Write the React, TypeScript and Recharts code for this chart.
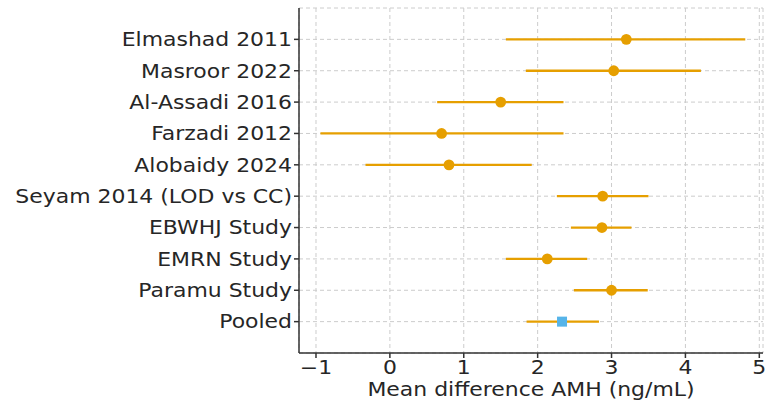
import { ScatterChart, Scatter, XAxis, YAxis, CartesianGrid, ErrorBar, Label } from 'recharts'

const studies = [
  'Elmashad 2011',
  'Masroor 2022',
  'Al-Assadi 2016',
  'Farzadi 2012',
  'Alobaidy 2024',
  'Seyam 2014 (LOD vs CC)',
  'EBWHJ Study',
  'EMRN Study',
  'Paramu Study',
  'Pooled',
]
const means = [3.2, 3.03, 1.5, 0.7, 0.8, 2.88, 2.87, 2.13, 3.0, 2.33]
const lows = [1.57, 1.84, 0.64, -0.94, -0.33, 2.26, 2.45, 1.57, 2.49, 1.85]
const highs = [4.81, 4.21, 2.35, 2.35, 1.92, 3.5, 3.27, 2.67, 3.49, 2.83]
const xTicks = [-1, 0, 1, 2, 3, 4, 5]

const ORANGE = '#E69F00'
const BLUE = '#56B4E9'
const FONT = 'DejaVu Sans, sans-serif'
const FS = 19
const STRETCH = 1.155
const TXT = '#262626'

const rows = studies.map((name, i) => ({
  name,
  idx: i,
  mean: means[i],
  err: [means[i] - lows[i], highs[i] - means[i]],
}))
const studyRows = rows.filter((r) => r.name !== 'Pooled')
const pooledRow = rows.filter((r) => r.name === 'Pooled')

const Dot = (props: any) => <circle cx={props.cx} cy={props.cy} r={5.4} fill={ORANGE} />
const Square = (props: any) => (
  <rect x={props.cx - 5} y={props.cy - 5} width={10} height={10} fill={BLUE} />
)

// matplotlib text in the source looks a bit wider than DejaVu at this size
const WideText = ({ x, y, anchor, dy, children }: any) => (
  <g transform={`translate(${x},${y})`}>
    <text
      transform={`scale(${STRETCH},1)`}
      textAnchor={anchor}
      dy={dy}
      fontSize={FS}
      fontFamily={FONT}
      fill={TXT}
    >
      {children}
    </text>
  </g>
)

const XTick = (props: any) => {
  const v = props.payload.value
  return (
    <WideText x={props.x} y={props.y} anchor="middle" dy="0.76em">
      {v < 0 ? '\u2212' + Math.abs(v) : String(v)}
    </WideText>
  )
}

const YTick = (props: any) => (
  <WideText x={props.x} y={props.y} anchor="end" dy="0.36em">
    {studies[props.payload.value] ?? ''}
  </WideText>
)

const XLabel = (props: any) => {
  const vb = props.viewBox
  return (
    <WideText x={vb.x + vb.width / 2} y={396} anchor="middle" dy={0}>
      Mean difference AMH (ng/mL)
    </WideText>
  )
}

export default function App() {
  return (
    <div>
      <style>{'body{margin:0}'}</style>
      <ScatterChart width={765} height={400} margin={{ top: 8, right: 2, bottom: 0, left: 0 }}>
        <CartesianGrid stroke="#cccccc" strokeDasharray="4 3" />
        <XAxis
          type="number"
          dataKey="mean"
          domain={[-1.23, 5.05]}
          ticks={xTicks}
          allowDataOverflow
          tick={<XTick />}
          stroke="#333"
          strokeWidth={1.5}
          tickSize={5}
          height={47}
        >
          <Label content={<XLabel />} />
        </XAxis>
        <YAxis
          type="number"
          dataKey="idx"
          domain={[-1, 10]}
          reversed
          ticks={studies.map((_, i) => i)}
          interval={0}
          tick={<YTick />}
          stroke="#333"
          strokeWidth={1.5}
          tickSize={5}
          width={299}
        />
        <Scatter data={studyRows} shape={Dot} isAnimationActive={false}>
          <ErrorBar dataKey="err" direction="x" width={0} stroke={ORANGE} strokeWidth={2.3} />
        </Scatter>
        <Scatter data={pooledRow} shape={Square} isAnimationActive={false}>
          <ErrorBar dataKey="err" direction="x" width={0} stroke={ORANGE} strokeWidth={2.3} />
        </Scatter>
      </ScatterChart>
    </div>
  )
}
